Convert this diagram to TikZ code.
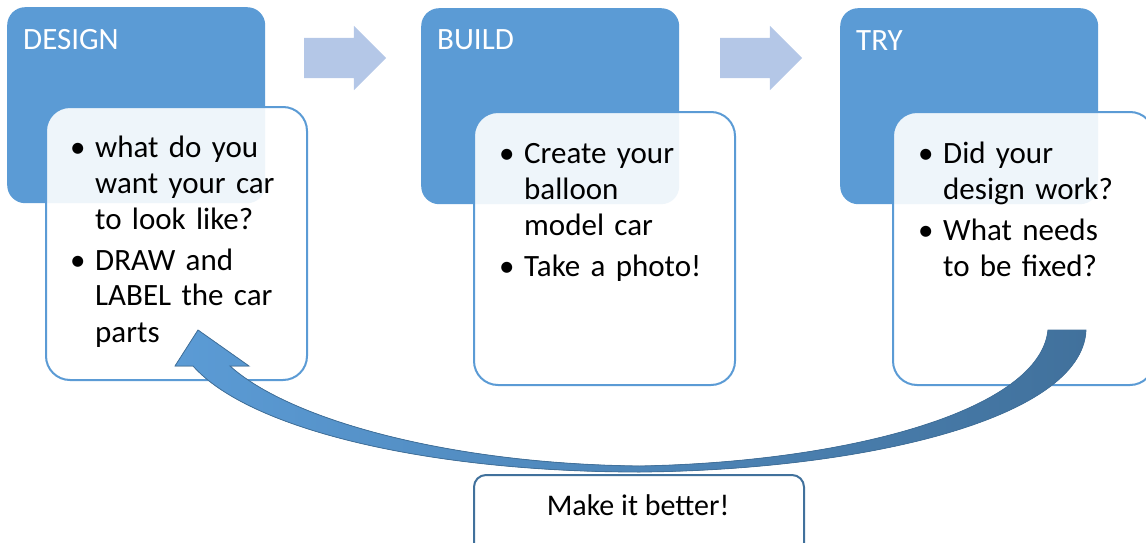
\documentclass[tikz,border=0pt]{standalone}
\usepackage{fontspec}
\setmainfont{Carlito}
\usepackage{xcolor}
\usepackage{tikz}
\usetikzlibrary{shapes,shapes.arrows,positioning,calc}
\definecolor{stepcolor}{RGB}{91,155,213}
\definecolor{flowcolor}{RGB}{180,199,231}
\definecolor{loopcolor}{RGB}{91,155,213}
\definecolor{loopdark}{RGB}{65,113,156}

% bullet with hanging indent
\newcommand{\bitem}[1]{\hangindent=25pt\hangafter=1\makebox[25pt][l]{\textbullet}#1\par}

\begin{document}
\begin{tikzpicture}[x=1pt, y=-1pt,
  header/.style={rectangle, rounded corners=18pt, fill=stepcolor, minimum width=258pt, minimum height=196pt, anchor=north west, inner sep=0pt},
  body/.style={rectangle, rounded corners=24pt, draw=stepcolor, line width=2pt, fill=white, fill opacity=0.9, minimum width=261pt, minimum height=273pt, anchor=north west, inner sep=0pt},
  title/.style={anchor=base west, inner sep=0pt, text=white, font=\fontsize{31}{36}\selectfont},
  points/.style={anchor=base west, inner sep=0pt, text width=230pt, align=left, font=\fontsize{31}{36}\selectfont},
  flow/.style={shape=single arrow, fill=flowcolor, minimum height=82pt, inner xsep=0pt, inner ysep=20pt, single arrow head extend=12pt},
  better/.style={rectangle, rounded corners=12pt, draw=loopdark, line width=2pt, fill=white, minimum width=330pt, minimum height=80pt, anchor=north west, inner sep=0pt}
]
\useasboundingbox (0,0) rectangle (1146,543);

% Step headers
\node[header] (design) at (7,7) {};
\node[header] (build) at (421,8) {};
\node[header] (try) at (840,8) {};
\node[title] (designtitle) at (23,50) {DESIGN};
\node[title] (buildtitle) at (437,50) {BUILD};
\node[title] (trytitle) at (856,51) {TRY};

% Step contents
\node[body] (designbody) at (45,106) {};
\node[body] (buildbody) at (473,111) {};
\node[body] (trybody) at (892,111) {};

\node[points] (designpts) at (70,157) {\setlength{\parskip}{5pt}%
  \bitem{what do you\newline want your car\newline to look like?}%
  \bitem{DRAW and\newline LABEL the car\newline parts}};
\node[points] (buildpts) at (499,163) {\setlength{\parskip}{5pt}%
  \bitem{Create your\newline balloon\newline model car}%
  \bitem{Take a photo!}};
\node[points] (trypts) at (918,163) {\setlength{\parskip}{5pt}%
  \bitem{Did your\newline design work?}%
  \bitem{What needs\newline to be fixed?}};

% Arrows between steps
\node[flow] (flow1) at (335,58) {};
\node[flow] (flow2) at (751,58) {};

% Loop back from TRY to DESIGN
\filldraw[left color=loopcolor, middle color=loopcolor!80!loopdark, right color=loopdark, draw=loopdark, line width=0.8pt]
  (1048,330) -- (1086,330)
  .. controls (1082,420) and (860,470) .. (640,472)
  .. controls (430,472) and (250,430) .. (193,366)
  -- (175,366) -- (198,330) -- (249,366) -- (230,366)
  .. controls (290,420) and (450,464) .. (640,466)
  .. controls (850,462) and (1040,410) .. (1048,330) -- cycle;

\node[better] (improve) at (473,474) {};
\node[font=\fontsize{30}{36}\selectfont, anchor=base] (improvetxt) at (638,515) {Make it better!};

\end{tikzpicture}
\end{document}
